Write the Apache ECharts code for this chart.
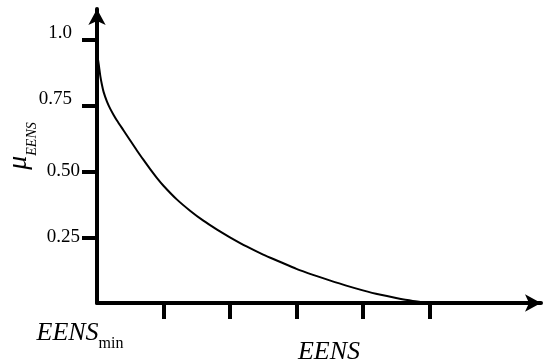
<!DOCTYPE html>
<html>
<head>
<meta charset="utf-8">
<script src="https://cdn.jsdelivr.net/npm/echarts@6/dist/echarts.min.js"></script>
<style>
html,body{margin:0;padding:0;background:#fff;}
#chart{width:544px;height:362px;}
</style>
</head>
<body>
<div id="chart"></div>
<script>
// Data (EENS in tick units, membership value)
var eensValues = [0, 0.025, 0.05, 0.075, 0.1, 0.15, 0.2, 0.25, 0.3, 0.4, 0.5, 0.6, 0.7, 0.8, 0.9, 1.0, 1.2, 1.4, 1.6, 1.8, 2.0, 2.25, 2.5, 2.75, 3.0, 3.25, 3.5, 3.75, 4.0, 4.25, 4.5, 4.75, 5.0];
var muValues   = [0.95, 0.909, 0.863, 0.829, 0.802, 0.766, 0.738, 0.715, 0.694, 0.656, 0.618, 0.58, 0.544, 0.509, 0.476, 0.446, 0.394, 0.351, 0.313, 0.28, 0.25, 0.215, 0.184, 0.157, 0.13, 0.107, 0.086, 0.066, 0.048, 0.032, 0.019, 0.008, 0.0];
var xTickValues = [1, 2, 3, 4, 5];
var yTickValues = [0.25, 0.5, 0.75, 1.0];
var yTickLabels = ['0.25', '0.50', '0.75', '1.0'];
var xAxisTitle = 'EENS';
var xMinLabel = 'EENS';
var xMinSub = 'min';
var yAxisSymbol = 'μ';
var yAxisSub = 'EENS';

var curve = eensValues.map(function (x, i) { return [x, muValues[i]]; });

var chart = echarts.init(document.getElementById('chart'), null, {renderer: 'canvas'});
var serif = '"Liberation Serif", "Times New Roman", serif';

chart.setOption({
  animation: false,
  backgroundColor: '#ffffff',
  grid: {left: 97, right: 3, top: 9, bottom: 59, containLabel: false, outerBoundsMode: 'none'},
  xAxis: {
    type: 'value', min: 0, max: 6.68,
    splitLine: {show: false},
    axisLine: {show: true, onZero: true, symbol: ['none', 'arrow'], symbolSize: [13, 16],
      lineStyle: {color: '#000', width: 4}},
    axisTick: {show: true, customValues: xTickValues, length: 16, lineStyle: {color: '#000', width: 4}},
    axisLabel: {
      show: true, customValues: [0], margin: 17,
      formatter: function () { return '{a|' + xMinLabel + '}{b|' + xMinSub + '}'; },
      padding: [0, 34, 0, 0],
      rich: {
        a: {fontFamily: serif, fontStyle: 'italic', fontSize: 26, color: '#000', verticalAlign: 'bottom', lineHeight: 26},
        b: {fontFamily: serif, fontSize: 16, color: '#000', verticalAlign: 'bottom', lineHeight: 16, padding: [0, 0, -6, 0]}
      }
    },
    name: xAxisTitle, nameLocation: 'middle', nameGap: 36, nameMoveOverlap: false,
    nameTextStyle: {fontFamily: serif, fontStyle: 'italic', fontSize: 26, color: '#000', padding: [0, 0, 0, 20]}
  },
  yAxis: {
    type: 'value', min: 0, max: 1.118,
    splitLine: {show: false},
    axisLine: {show: true, onZero: true, symbol: ['none', 'arrow'], symbolSize: [13, 16],
      lineStyle: {color: '#000', width: 4}},
    axisTick: {show: true, customValues: yTickValues, length: 15, lineStyle: {color: '#000', width: 4}},
    axisLabel: {
      show: true, customValues: yTickValues, margin: 17,
      formatter: function (v) {
        var idx = yTickValues.indexOf(v);
        var t = idx >= 0 ? yTickLabels[idx] : '';
        return (v >= 0.75 ? '{hi|' : '{lo|') + t + '}';
      },
      rich: {
        hi: {fontFamily: serif, fontSize: 19, color: '#000', padding: [0, 8, 14, 0]},
        lo: {fontFamily: serif, fontSize: 19, color: '#000'}
      }
    },
    name: '{mu|' + yAxisSymbol + '}{sub|' + yAxisSub + '}',
    nameLocation: 'middle', nameRotate: 90, nameGap: 58, nameMoveOverlap: false,
    nameTextStyle: {
      padding: [0, 0, 0, 20],
      rich: {
        mu: {fontFamily: serif, fontStyle: 'italic', fontSize: 28, color: '#000', verticalAlign: 'bottom', lineHeight: 28, padding: [0, 0, 6, 0]},
        sub: {fontFamily: serif, fontStyle: 'italic', fontSize: 14, color: '#000', verticalAlign: 'bottom', lineHeight: 14}
      }
    }
  },
  series: [{
    type: 'line',
    data: curve,
    showSymbol: false,
    smooth: 0.25,
    lineStyle: {color: '#000', width: 2},
    z: 1
  }]
});
</script>
</body>
</html>
